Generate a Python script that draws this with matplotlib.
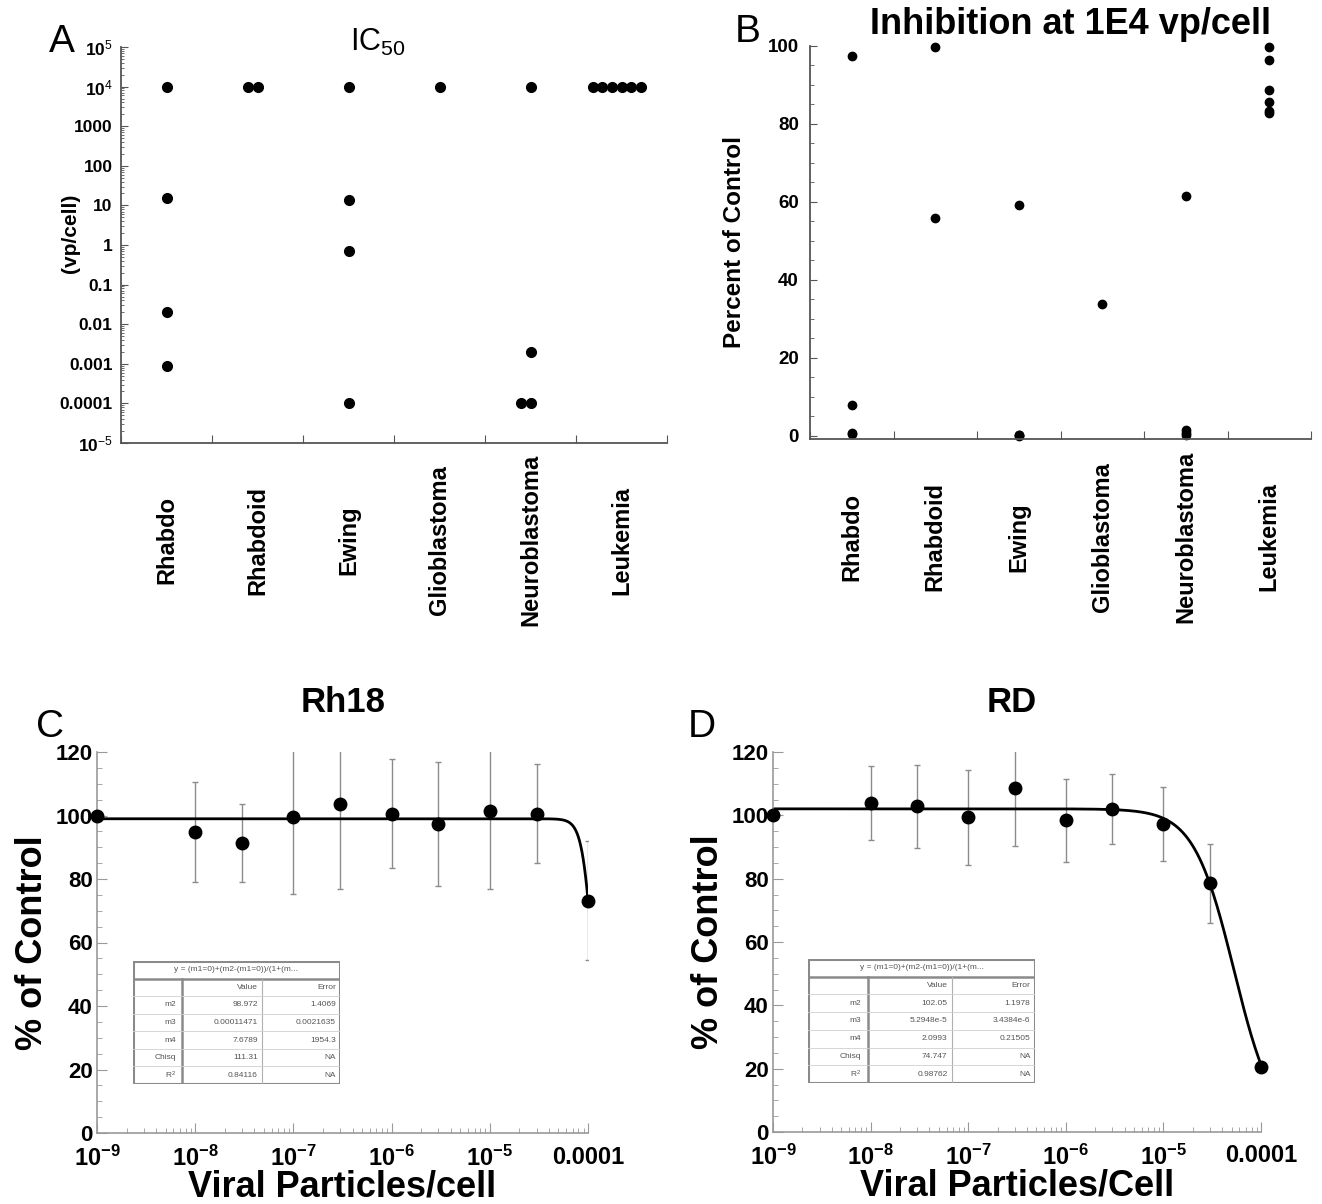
import numpy as np
import matplotlib
matplotlib.use('Agg')
import matplotlib.pyplot as plt
import matplotlib.transforms as mtransforms
from matplotlib.ticker import FixedLocator, FixedFormatter, MultipleLocator, LogLocator, NullFormatter

plt.rcParams['font.family'] = ['Liberation Sans', 'DejaVu Sans']
plt.rcParams['mathtext.fontset'] = 'custom'
plt.rcParams['mathtext.rm'] = 'Liberation Sans'
plt.rcParams['mathtext.bf'] = 'Liberation Sans:bold'
plt.rcParams['mathtext.it'] = 'Liberation Sans:italic'

W, H = 1322, 1204

# ---- data ----
categories = ['Rhabdo', 'Rhabdoid', 'Ewing', 'Glioblastoma', 'Neuroblastoma', 'Leukemia']
ic50 = [[1e4, 15, 0.02, 0.0009],
        [1e4, 1e4],
        [1e4, 14, 0.7, 0.0001],
        [1e4],
        [1e4, 0.002, 0.0001, 0.0001],
        [1e4, 1e4, 1e4, 1e4, 1e4, 1e4]]
inhibition = [[97.5, 8, 0.8, 0.5],
              [99.7, 55.8],
              [59.1, 0.3, 0.1, 0.0],
              [33.8],
              [61.4, 1.5, 0.8, 0.3],
              [99.8, 96.5, 88.8, 85.6, 83.4, 82.7]]

dose = [1e-9, 1e-8, 3e-8, 1e-7, 3e-7, 1e-6, 3e-6, 1e-5, 3e-5, 1e-4]
rh18_mean = [100, 94.9, 91.4, 99.4, 103.6, 100.6, 97.2, 101.5, 100.6, 73.2]
rh18_sd = [0, 15.7, 12.2, 24, 26.6, 17.1, 19.5, 24.5, 15.6, 18.8]
rd_mean = [100, 103.9, 102.8, 99.4, 108.7, 98.4, 102.1, 97.4, 78.6, 20.5]
rd_sd = [0, 11.8, 13, 15, 18.5, 13.2, 11, 11.7, 12.5, 0]

# fit parameters (m2, m3, m4) as given in the tables
rh18_fit = (98.972, 0.00011471, 7.6789)
rd_fit = (102.05, 5.2948e-5, 2.0993)

fit_eq = 'y = (m1=0)+(m2-(m1=0))/(1+(m...'
rh18_table = [['m2', '98.972', '1.4069'],
              ['m3', '0.00011471', '0.0021635'],
              ['m4', '7.6789', '1954.3'],
              ['Chisq', '111.31', 'NA'],
              ['R$^2$', '0.84116', 'NA']]
rd_table = [['m2', '102.05', '1.1978'],
            ['m3', '5.2948e-5', '3.4384e-6'],
            ['m4', '2.0993', '0.21505'],
            ['Chisq', '74.747', 'NA'],
            ['R$^2$', '0.98762', 'NA']]

dose_ticks = [1e-9, 1e-8, 1e-7, 1e-6, 1e-5, 1e-4]
dose_labels = [r'$\mathbf{10^{-9}}$', r'$\mathbf{10^{-8}}$', r'$\mathbf{10^{-7}}$',
               r'$\mathbf{10^{-6}}$', r'$\mathbf{10^{-5}}$', '0.0001']
ic50_ticks = [10.0 ** k for k in range(-5, 6)]
ic50_labels = [r'10$^{-5}$', '0.0001', '0.001', '0.01', '0.1', '1', '10', '100', '1000',
               r'10$^{4}$', r'10$^{5}$']

fig = plt.figure(figsize=(W / 100, H / 100), dpi=100)


def axes_px(l, t, r, b):
    return fig.add_axes([l / W, 1 - b / H, (r - l) / W, (b - t) / H])


def ftext(px, py, s, **kw):
    fig.text(px / W, 1 - py / H, s, **kw)


def style_axes(ax, color, lw=1.3):
    for s in ['top', 'right']:
        ax.spines[s].set_visible(False)
    for s in ['left', 'bottom']:
        ax.spines[s].set_color(color)
        ax.spines[s].set_linewidth(lw)
    ax.tick_params(which='both', direction='in', color=color)


# ---- panel A ----
axA = axes_px(121, 47, 667, 443)
style_axes(axA, '#555555')
for i, vals in enumerate(ic50):
    seen = {}
    for v in vals:
        seen[v] = seen.get(v, 0) + 1
    for v, n in seen.items():
        xs = [i + 0.5 + (k - n // 2) * 0.105 for k in range(n)]
        axA.plot(xs, [v] * n, 'o', color='black', ms=7, clip_on=False)
axA.set_yscale('log')
axA.set_ylim(1e-5, 1e5)
axA.set_xlim(0, 6)
axA.yaxis.set_major_locator(FixedLocator(ic50_ticks))
axA.yaxis.set_major_formatter(FixedFormatter(ic50_labels))
axA.yaxis.set_minor_locator(LogLocator(base=10, subs=np.arange(2, 10), numticks=20))
axA.yaxis.set_minor_formatter(NullFormatter())
axA.set_xticks(range(7))
axA.set_xticklabels([])
axA.tick_params(axis='y', which='major', length=5, labelsize=12.5, pad=6)
axA.tick_params(axis='y', which='minor', length=2.5)
axA.tick_params(axis='x', length=6)
for lab in axA.get_yticklabels():
    lab.set_fontweight('bold')
axA.text(-0.092, 0.53, '(vp/cell)', transform=axA.transAxes, rotation=90, ha='center',
         va='center', fontsize=15, fontweight='bold')
transA = mtransforms.blended_transform_factory(axA.transData, axA.transAxes)
for i, c in enumerate(categories):
    axA.text(i + 0.5, -0.245, c, transform=transA, rotation=90, ha='center', va='center',
             fontsize=17, fontweight='bold')

# ---- panel B ----
axB = axes_px(810, 46, 1311, 439)
style_axes(axB, '#555555')
for i, vals in enumerate(inhibition):
    axB.plot([i + 0.5] * len(vals), vals, 'o', color='black', ms=6, clip_on=False)
axB.set_xlim(0, 6)
axB.set_ylim(-0.8, 100)
axB.yaxis.set_major_locator(FixedLocator([0, 20, 40, 60, 80, 100]))
axB.yaxis.set_minor_locator(MultipleLocator(5))
axB.set_xticks(range(7))
axB.set_xticklabels([])
axB.tick_params(axis='y', which='major', length=5, labelsize=13.5, pad=8)
axB.tick_params(axis='y', which='minor', length=3)
axB.tick_params(axis='x', length=6)
for lab in axB.get_yticklabels():
    lab.set_fontweight('bold')
axB.text(-0.15, 0.5, 'Percent of Control', transform=axB.transAxes, rotation=90,
         ha='center', va='center', fontsize=17.5, fontweight='bold')
transB = mtransforms.blended_transform_factory(axB.transData, axB.transAxes)
for i, c in enumerate(categories):
    axB.text(i + 0.5, -0.249, c, transform=transB, rotation=90, ha='center', va='center',
             fontsize=17, fontweight='bold')


# ---- panels C / D ----
def draw_table(l, t, r, b, c1, c2, rows):
    tax = axes_px(l, t, r, b)
    tax.set_xlim(0, 1)
    tax.set_ylim(1, 0)
    tax.axis('off')
    fx1 = (c1 - l) / (r - l)
    fx2 = (c2 - l) / (r - l)
    nr = len(rows) + 2
    rh = 1.0 / nr
    grey = '#8a8a8a'
    tax.add_patch(plt.Rectangle((0, 0), 1, 1, fill=False, lw=2.2, ec=grey))
    tax.plot([0, 1], [rh, rh], color=grey, lw=1.8)
    tax.plot([fx1, fx1], [rh, 1], color=grey, lw=1.8)
    tax.plot([fx2, fx2], [rh, 1], color='#b0b0b0', lw=0.8)
    for k in range(2, nr):
        tax.plot([0, 1], [k * rh, k * rh], color='#d0d0d0', lw=0.6)
    kw = dict(fontsize=6, color='#555555', va='center')
    tax.text(0.5, 0.5 * rh, fit_eq, ha='center', **kw)
    tax.text(fx2 - 0.02, 1.5 * rh, 'Value', ha='right', **kw)
    tax.text(0.98, 1.5 * rh, 'Error', ha='right', **kw)
    for k, row in enumerate(rows):
        yy = (k + 2.5) * rh
        tax.text(fx1 - 0.03, yy, row[0], ha='right', **kw)
        tax.text(fx2 - 0.02, yy, row[1], ha='right', **kw)
        tax.text(0.98, yy, row[2], ha='right', **kw)


def dose_panel(box, mean, sd, fit, xlabel):
    ax = axes_px(*box)
    style_axes(ax, '#999999', 1.2)
    ax.errorbar(dose, mean, yerr=sd, fmt='none', ecolor='#8c8c8c', elinewidth=1,
                capsize=2, capthick=1)
    xs = np.logspace(-9, -4, 400)
    m2, m3, m4 = fit
    ax.plot(xs, m2 / (1 + (xs / m3) ** m4), color='black', lw=2)
    ax.plot(dose, mean, 'o', color='black', ms=9, clip_on=False, zorder=4)
    ax.set_xscale('log')
    ax.set_xlim(1e-9, 1e-4)
    ax.set_ylim(0, 120)
    ax.xaxis.set_major_locator(FixedLocator(dose_ticks))
    ax.xaxis.set_major_formatter(FixedFormatter(dose_labels))
    ax.xaxis.set_minor_locator(LogLocator(base=10, subs=np.arange(2, 10), numticks=20))
    ax.xaxis.set_minor_formatter(NullFormatter())
    ax.yaxis.set_major_locator(MultipleLocator(20))
    ax.yaxis.set_minor_locator(MultipleLocator(5))
    ax.tick_params(which='major', length=7)
    ax.tick_params(which='minor', length=3.5)
    ax.tick_params(axis='x', which='major', labelsize=17, pad=9)
    ax.tick_params(axis='y', which='major', labelsize=16, pad=3)
    for lab in ax.get_xticklabels() + ax.get_yticklabels():
        lab.set_fontweight('bold')
    ax.set_xlabel(xlabel, fontsize=26, fontweight='bold', labelpad=-1)
    ax.set_ylabel('% of Control', fontsize=26, fontweight='bold', labelpad=4)
    return ax


dose_panel((97, 752, 588, 1133), rh18_mean, rh18_sd, rh18_fit, 'Viral Particles/cell')
dose_panel((773, 752, 1261, 1132), rd_mean, rd_sd, rd_fit, 'Viral Particles/Cell')
draw_table(133, 961, 340, 1084, 182, 262, rh18_table)
draw_table(808, 959, 1035, 1083, 868, 952, rd_table)

# ---- titles and panel letters ----
ftext(378, 42, r'IC$_{50}$', fontsize=22, ha='center', va='center')
ftext(1071, 24, 'Inhibition at 1E4 vp/cell', fontsize=26, fontweight='bold', ha='center', va='center')
ftext(343, 702, 'Rh18', fontsize=25, fontweight='bold', ha='center', va='center')
ftext(1012, 702, 'RD', fontsize=25, fontweight='bold', ha='center', va='center')
ftext(62, 42, 'A', fontsize=28, ha='center', va='center')
ftext(748, 32, 'B', fontsize=28, ha='center', va='center')
ftext(50, 727, 'C', fontsize=28, ha='center', va='center')
ftext(702, 727, 'D', fontsize=28, ha='center', va='center')

fig.savefig('out.png', dpi=100)
